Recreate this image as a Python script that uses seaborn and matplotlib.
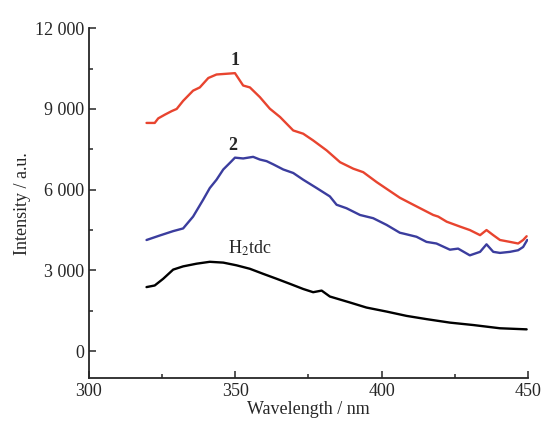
import matplotlib
matplotlib.use("Agg")
from matplotlib import pyplot as plt
from matplotlib.ticker import MultipleLocator
import seaborn as sns
import pandas as pd

# values
wl_1 = [319.7, 322.5, 323.7, 326.0, 328.3, 330.0, 332.2, 335.6, 337.9, 340.8, 343.6, 349.9,
        352.7, 355.0, 358.4, 361.8, 365.3, 369.8, 373.2, 376.6, 381.2, 385.8, 390.3, 393.7,
        398.3, 401.7, 406.2, 410.8, 414.2, 417.6, 419.3, 422.2, 426.7, 430.1, 433.6, 435.8,
        438.1, 440.4, 443.8, 446.6, 448.3, 449.5]
int_1 = [8480, 8480, 8650, 8790, 8920, 9000, 9300, 9680, 9800, 10150, 10280, 10330,
         9870, 9800, 9440, 9010, 8700, 8200, 8080, 7830, 7460, 7020, 6780, 6650,
         6280, 6030, 5700, 5440, 5250, 5060, 5000, 4810, 4630, 4500, 4310, 4500,
         4310, 4130, 4060, 4000, 4130, 4270]

wl_2 = [319.7, 324.3, 328.8, 332.2, 335.6, 339.0, 341.3, 343.6, 345.9, 348.2, 349.9, 352.7,
        356.1, 358.4, 360.7, 363.0, 366.4, 369.8, 373.2, 377.8, 382.3, 384.6, 388.0, 392.6,
        397.1, 401.7, 406.2, 407.4, 411.9, 415.3, 418.7, 423.3, 426.1, 430.1, 433.6, 435.8,
        438.1, 440.4, 443.8, 446.6, 448.3, 449.7]
int_2 = [4130, 4300, 4460, 4560, 5000, 5620, 6060, 6370, 6750, 7000, 7190, 7160,
         7220, 7120, 7060, 6940, 6750, 6620, 6370, 6060, 5750, 5440, 5310, 5060,
         4940, 4690, 4400, 4370, 4250, 4060, 4000, 3770, 3810, 3560, 3690, 3970,
         3690, 3650, 3690, 3750, 3870, 4130]

wl_h2tdc = [319.7, 322.5, 325.4, 328.8, 332.2, 336.8, 341.3, 345.9, 350.4, 355.0, 359.6,
            364.1, 368.7, 373.2, 376.6, 379.5, 382.3, 389.1, 394.8, 401.7, 408.5, 415.3,
            423.3, 431.3, 440.4, 449.5]
int_h2tdc = [2380, 2440, 2690, 3030, 3150, 3250, 3320, 3290, 3190, 3060, 2870,
             2690, 2500, 2310, 2190, 2250, 2030, 1810, 1620, 1470, 1310, 1190,
             1060, 970, 850, 810]

y_ticks = [0, 3000, 6000, 9000, 12000]
y_tick_labels = ["0", "3 000", "6 000", "9 000", "12 000"]
x_ticks = [300, 350, 400, 450]

sns.set_style("ticks")
plt.rcParams["font.family"] = ["Liberation Serif", "DejaVu Serif"]
plt.rcParams["mathtext.fontset"] = "stix"

fig = plt.figure(figsize=(5.45, 4.21), dpi=100)
ax = fig.add_axes([0.163, 0.102, 0.806, 0.831])

d1 = pd.DataFrame({"wl": wl_1, "I": int_1})
d2 = pd.DataFrame({"wl": wl_2, "I": int_2})
d3 = pd.DataFrame({"wl": wl_h2tdc, "I": int_h2tdc})
sns.lineplot(data=d1, x="wl", y="I", ax=ax, color="#e8442f", lw=1.7)
sns.lineplot(data=d2, x="wl", y="I", ax=ax, color="#3b3d9e", lw=1.7)
sns.lineplot(data=d3, x="wl", y="I", ax=ax, color="black", lw=1.7)

# curve labels
ax.text(350, 10800, "1", fontsize=13, fontweight="bold", ha="center", va="center")
ax.text(349.2, 7640, "2", fontsize=13, fontweight="bold", ha="center", va="center")
ax.text(355, 3820, r"H$_2$tdc", fontsize=13, ha="center", va="center")

ax.set_xlim(300, 450)
ax.set_ylim(-1000, 12000)
ax.set_xticks(x_ticks)
ax.set_yticks(y_ticks)
ax.set_yticklabels(y_tick_labels)
ax.xaxis.set_minor_locator(MultipleLocator(25))
ax.yaxis.set_minor_locator(MultipleLocator(1500))
ax.tick_params(which="both", direction="in", labelsize=13, width=1.1)
ax.tick_params(which="major", length=5)
ax.tick_params(which="minor", length=3)
ax.spines["left"].set_bounds(-1000, 12000)
for s in ["left", "bottom"]:
    ax.spines[s].set_linewidth(1.3)
sns.despine(ax=ax)

ax.set_xlabel("Wavelength / nm", fontsize=13, labelpad=1)
ax.set_ylabel("Intensity / a.u.", fontsize=13, labelpad=3)

fig.savefig("out.png", dpi=100)
